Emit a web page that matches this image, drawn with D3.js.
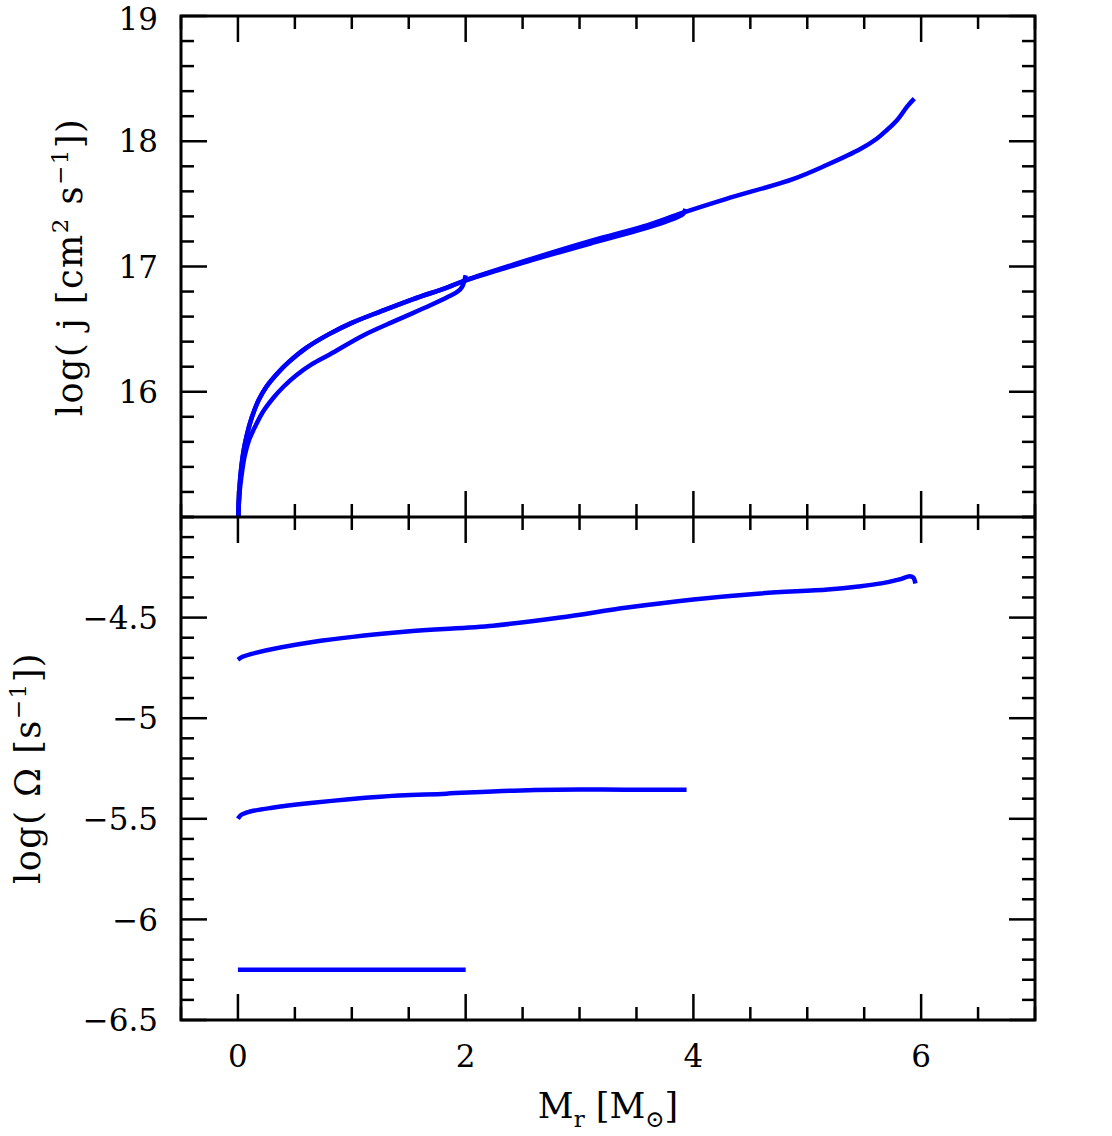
<!DOCTYPE html>
<html>
<head>
    <meta charset="utf-8">
    <title></title>
    <script src="https://d3js.org/d3.v7.min.js"></script>
    <style>
        html, body { margin: 0; padding: 0; background: white; }
        text { font-family: "DejaVu Serif", serif; fill: black; }
    </style>
</head>
<body>
    <div id="chart"></div>
    <script>
        // ---- data ----
        // top panel: log j, three models (ending at ~2, ~4, ~6 Msun)
        const j1Mass = [0.0, 0.005, 0.015, 0.03, 0.06, 0.1, 0.15, 0.22, 0.31, 0.4, 0.51, 0.65, 0.81, 1.1, 1.39, 1.69, 1.85, 1.93, 1.97, 2.0];
        const j1Val  = [14.9, 15.05, 15.2, 15.32, 15.49, 15.62, 15.72, 15.84, 15.95, 16.04, 16.13, 16.22, 16.30, 16.45, 16.57, 16.69, 16.76, 16.80, 16.84, 16.93];

        const j2Mass = [0.0, 0.005, 0.015, 0.03, 0.05, 0.08, 0.12, 0.18, 0.25, 0.35, 0.45, 0.6, 0.8, 1.0, 1.25, 1.54, 1.83, 2.0, 2.54, 3.12, 3.56, 3.85, 3.91, 3.93];
        const j2Val  = [14.9, 15.05, 15.25, 15.40, 15.53, 15.66, 15.79, 15.93, 16.04, 16.15, 16.24, 16.35, 16.46, 16.55, 16.64, 16.74, 16.83, 16.89, 17.04, 17.19, 17.30, 17.39, 17.42, 17.46];

        const j3Mass = [0.0, 0.005, 0.015, 0.03, 0.05, 0.08, 0.12, 0.18, 0.25, 0.35, 0.45, 0.6, 0.8, 1.0, 1.25, 1.54, 1.83, 2.0, 2.54, 3.12, 3.56, 3.91, 4.29, 4.88, 5.17, 5.47, 5.61, 5.70, 5.79, 5.88, 5.94];
        const j3Val  = [14.9, 15.05, 15.25, 15.40, 15.53, 15.66, 15.79, 15.93, 16.04, 16.15, 16.24, 16.35, 16.46, 16.55, 16.64, 16.74, 16.83, 16.89, 17.05, 17.21, 17.32, 17.43, 17.54, 17.70, 17.81, 17.94, 18.02, 18.09, 18.17, 18.28, 18.34];

        // bottom panel: log Omega
        const om1Mass = [0.0, 2.0];
        const om1Val  = [-6.25, -6.25];

        const om2Mass = [0.0, 0.03, 0.1, 0.3, 0.66, 1.25, 1.83, 2.42, 2.8, 3.4, 3.94];
        const om2Val  = [-5.50, -5.48, -5.465, -5.445, -5.42, -5.39, -5.375, -5.36, -5.355, -5.355, -5.355];

        const om3Mass = [0.0, 0.04, 0.12, 0.67, 1.46, 2.24, 2.83, 3.42, 4.0, 4.59, 5.18, 5.45, 5.65, 5.81, 5.9, 5.93, 5.95];
        const om3Val  = [-4.71, -4.695, -4.68, -4.62, -4.57, -4.54, -4.50, -4.45, -4.41, -4.38, -4.36, -4.345, -4.33, -4.31, -4.295, -4.30, -4.33];

        const xMajor = [0, 2, 4, 6];
        const topMajor = [16, 17, 18, 19];
        const botMajor = [-6.5, -6, -5.5, -5, -4.5];

        // ---- layout ----
        const W = 1112, H = 1136;
        const box = { left: 181, right: 1035, top: 16, mid: 517, bottom: 1020 };

        const svg = d3.select("#chart").append("svg")
            .attr("width", W).attr("height", H);

        const x = d3.scaleLinear().domain([-0.5, 7]).range([box.left, box.right]);
        const yTop = d3.scaleLinear().domain([15, 19]).range([box.mid, box.top]);
        const yBot = d3.scaleLinear().domain([-6.5, -4]).range([box.bottom, box.mid]);

        const xMinor = d3.range(-0.5, 7.001, 0.5);
        const topMinor = d3.range(15, 19.001, 0.2).map(v => +v.toFixed(1));
        const botMinor = d3.range(-6.5, -3.999, 0.1).map(v => +v.toFixed(1));

        const bigTick = 26, smallTick = 13;

        // draw ticks on the four sides of one panel (inward)
        function panelTicks(yScale, yMaj, yMin, y0, y1) {
            const g = svg.append("g").attr("stroke", "black").attr("stroke-width", 2.5);
            xMinor.forEach(v => {
                const len = xMajor.includes(v) ? bigTick : smallTick;
                g.append("line").attr("x1", x(v)).attr("x2", x(v)).attr("y1", y1).attr("y2", y1 - len);
                g.append("line").attr("x1", x(v)).attr("x2", x(v)).attr("y1", y0).attr("y2", y0 + len);
            });
            yMin.forEach(v => {
                const len = yMaj.some(m => Math.abs(m - v) < 1e-6) ? bigTick : smallTick;
                g.append("line").attr("x1", box.left).attr("x2", box.left + len).attr("y1", yScale(v)).attr("y2", yScale(v));
                g.append("line").attr("x1", box.right).attr("x2", box.right - len).attr("y1", yScale(v)).attr("y2", yScale(v));
            });
        }

        panelTicks(yTop, topMajor, topMinor, box.top, box.mid);
        panelTicks(yBot, botMajor, botMinor, box.mid, box.bottom);

        // clip regions
        const defs = svg.append("defs");
        defs.append("clipPath").attr("id", "clipTop").append("rect")
            .attr("x", box.left).attr("y", box.top).attr("width", box.right - box.left).attr("height", box.mid - box.top);
        defs.append("clipPath").attr("id", "clipBot").append("rect")
            .attr("x", box.left).attr("y", box.mid).attr("width", box.right - box.left).attr("height", box.bottom - box.mid);

        const lineTop = d3.line().x(d => x(d[0])).y(d => yTop(d[1])).curve(d3.curveCatmullRom.alpha(0.5));
        const lineBot = d3.line().x(d => x(d[0])).y(d => yBot(d[1])).curve(d3.curveCatmullRom.alpha(0.5));

        const topG = svg.append("g").attr("clip-path", "url(#clipTop)");
        [[j1Mass, j1Val], [j2Mass, j2Val], [j3Mass, j3Val]].forEach(([m, v]) => {
            topG.append("path")
                .datum(d3.zip(m, v))
                .attr("fill", "none")
                .attr("stroke", "#0000ff")
                .attr("stroke-width", 4.5)
                .attr("stroke-linejoin", "round")
                .attr("d", lineTop);
        });

        const botG = svg.append("g").attr("clip-path", "url(#clipBot)");
        [[om1Mass, om1Val], [om2Mass, om2Val], [om3Mass, om3Val]].forEach(([m, v]) => {
            botG.append("path")
                .datum(d3.zip(m, v))
                .attr("fill", "none")
                .attr("stroke", "#0000ff")
                .attr("stroke-width", 4.5)
                .attr("stroke-linejoin", "round")
                .attr("d", lineBot);
        });

        // frames
        svg.append("rect")
            .attr("x", box.left).attr("y", box.top)
            .attr("width", box.right - box.left).attr("height", box.bottom - box.top)
            .attr("fill", "none").attr("stroke", "black").attr("stroke-width", 3);
        svg.append("line")
            .attr("x1", box.left).attr("x2", box.right).attr("y1", box.mid).attr("y2", box.mid)
            .attr("stroke", "black").attr("stroke-width", 3);

        // tick labels
        const fs = 31;
        svg.append("g").selectAll("text").data(xMajor).join("text")
            .attr("x", d => x(d)).attr("y", box.bottom + 47)
            .attr("text-anchor", "middle").style("font-size", fs + "px")
            .text(d => d);

        svg.append("g").selectAll("text").data(topMajor).join("text")
            .attr("x", box.left - 23).attr("y", d => yTop(d) + (d === 19 ? 3 : 0))
            .attr("dy", "0.36em")
            .attr("text-anchor", "end").style("font-size", fs + "px")
            .text(d => d);

        svg.append("g").selectAll("text").data(botMajor).join("text")
            .attr("x", box.left - 23).attr("y", d => yBot(d))
            .attr("dy", "0.36em")
            .attr("text-anchor", "end").style("font-size", fs + "px")
            .text(d => String(d).replace("-", "\u2212"));

        // axis titles
        const tfs = 35, sfs = 23;
        const t1 = svg.append("text")
            .attr("transform", `translate(82,267) rotate(-90)`)
            .attr("text-anchor", "middle").style("font-size", tfs + "px")
            .attr("letter-spacing", 1.5);
        t1.append("tspan").text("log( j [cm");
        t1.append("tspan").attr("dy", -14).style("font-size", sfs + "px").text("2");
        t1.append("tspan").attr("dy", 14).text(" s");
        t1.append("tspan").attr("dy", -14).style("font-size", sfs + "px").text("\u22121");
        t1.append("tspan").attr("dy", 14).text("])");

        const t2 = svg.append("text")
            .attr("transform", `translate(40,768) rotate(-90)`)
            .attr("text-anchor", "middle").style("font-size", tfs + "px")
            .attr("letter-spacing", 1.5);
        t2.append("tspan").text("log( \u03A9 [s");
        t2.append("tspan").attr("dy", -14).style("font-size", sfs + "px").text("\u22121");
        t2.append("tspan").attr("dy", 14).text("])");

        const t3 = svg.append("text")
            .attr("x", 608).attr("y", 1118)
            .attr("text-anchor", "middle").style("font-size", tfs + "px");
        t3.append("tspan").text("M");
        t3.append("tspan").attr("dy", 9).style("font-size", sfs + "px").text("r");
        t3.append("tspan").attr("dy", -9).text("  [M");
        t3.append("tspan").attr("dy", 9).style("font-size", sfs + "px").text("\u2299");
        t3.append("tspan").attr("dy", -9).text("]");
    </script>
</body>
</html>
